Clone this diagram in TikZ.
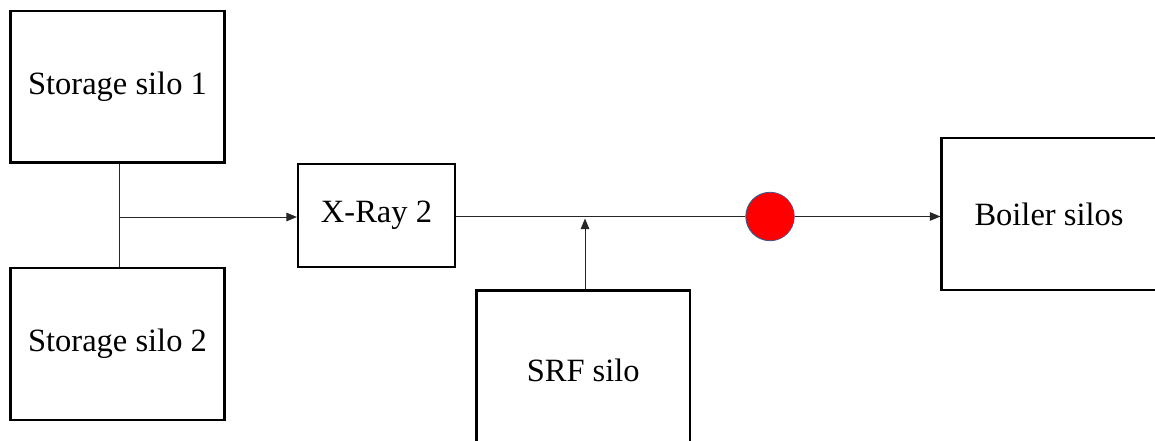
\documentclass[tikz,border=0pt]{standalone}
\usepackage{fontspec}
\setmainfont{Liberation Serif}
\usetikzlibrary{arrows.meta}
\definecolor{dotedge}{RGB}{68,84,140}
\tikzset{
  box/.style={draw=black, line width=2.2pt, rectangle, inner sep=0pt, font=\fontsize{32.5}{39}\selectfont},
  conn/.style={draw=black!85, line width=1pt},
  arr/.style={conn, -{Triangle[length=10.5pt,width=8.5pt]}},
  dotnode/.style={circle, fill=red, draw=dotedge, line width=0.8pt, minimum size=48.5pt, inner sep=0pt}
}
\begin{document}
\begin{tikzpicture}[x=1pt,y=-1pt]
\useasboundingbox (0,0) rectangle (1155,441);
\clip (0,0) rectangle (1155,441);
\fill[white] (0,0) rectangle (1155,441);
\node[box, minimum width=214pt, minimum height=151.5pt] (s1) at (117.5,86.75) {\raisebox{-3pt}{Storage silo 1}};
\node[box, minimum width=214pt, minimum height=152pt] (s2) at (117.5,344) {\raisebox{-3pt}{Storage silo 2}};
\node[box, minimum width=157pt, minimum height=103pt] (xr) at (376.5,215.5) {\raisebox{-2pt}{X-Ray 2}};
\node[box, minimum width=213.5pt, minimum height=160pt] (srf) at (583.25,370.5) {SRF silo};
\node[box, minimum width=215pt, minimum height=151.5pt] (boil) at (1049,214) {\raisebox{-1pt}{Boiler silos}};
\node[dotnode] (dot) at (770,216.5) {};
\coordinate (j) at (119,217);
\coordinate (tip) at (585,218.5);
\draw[conn] (j |- s1.south) -- (j |- s2.north);
\draw[arr] (j) -- (j -| xr.west);
\draw[conn] (xr.east |- dot) -- (dot.west);
\draw[arr] (dot.east) -- (boil.west |- dot);
\draw[arr] (tip |- srf.north) -- (tip);
\end{tikzpicture}
\end{document}
